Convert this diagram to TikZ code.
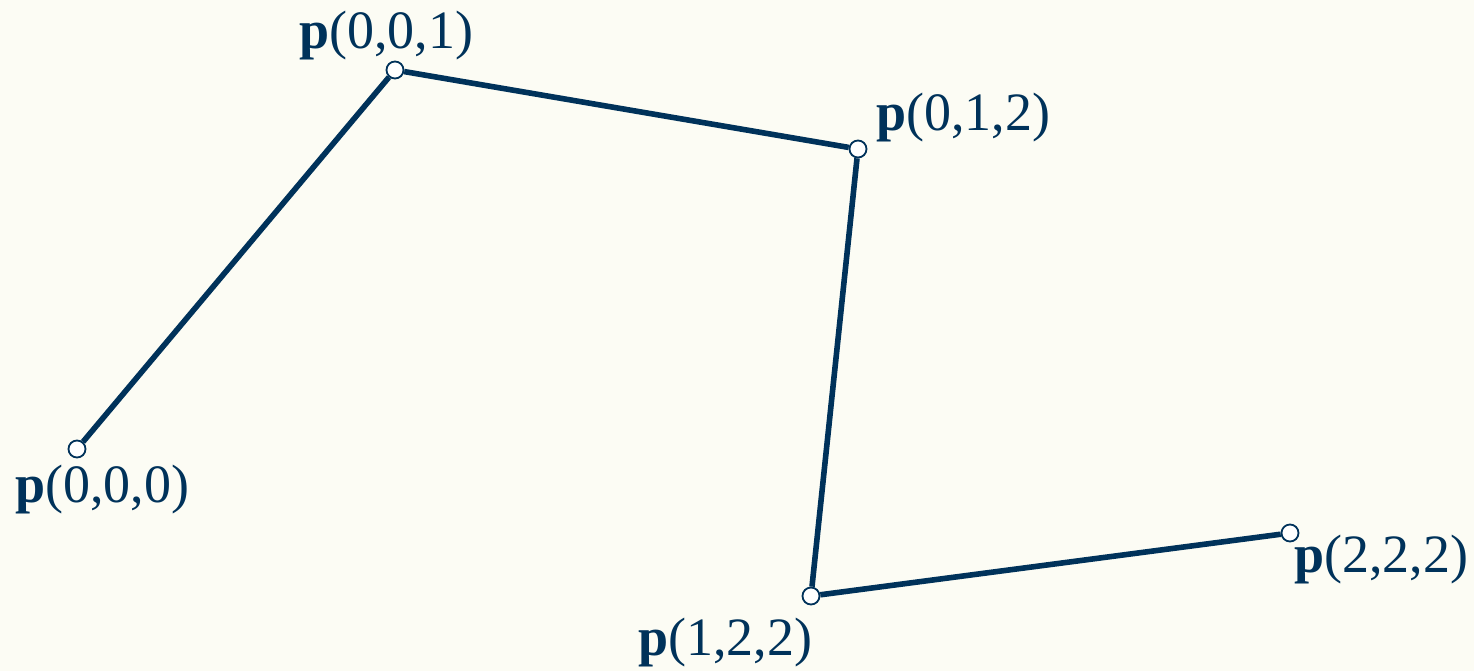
\documentclass[tikz,border=0pt]{standalone}
\usepackage{fontspec}
\setmainfont{Liberation Serif}
\usepackage{xcolor}
\usepackage{tikz}
\usetikzlibrary{positioning}
\definecolor{navy}{HTML}{00325A}
\definecolor{cream}{HTML}{FCFCF4}

\begin{document}
\begin{tikzpicture}[
x=0.5pt, y=-0.5pt,
pt/.style={draw=navy, circle, line width=0.9pt, fill=white, inner sep=0pt, minimum size=8.5pt},
lbl/.style={text=navy, inner sep=0pt, font=\fontsize{27}{30}\selectfont},
seg/.style={draw=navy, line width=2.8pt}
]
\fill[cream] (0,0) rectangle (1474,671);
\useasboundingbox (0,0) rectangle (1474,671);

\node[pt] (a) at (77,449) {};
\node[pt] (b) at (395,70) {};
\node[pt] (c) at (858,149) {};
\node[pt] (d) at (811,596) {};
\node[pt] (e) at (1290,533) {};

\node[lbl] (la) at (102,490) {\textbf{p}(0,0,0)};
\node[lbl] (lb) at (386,36) {\textbf{p}(0,0,1)};
\node[lbl, anchor=west] (lc) at (876,118) {\textbf{p}(0,1,2)};
\node[lbl] (ld) at (725,643) {\textbf{p}(1,2,2)};
\node[lbl] (le) at (1381,560) {\textbf{p}(2,2,2)};

\draw[seg] (a) -- (b);
\draw[seg] (b) -- (c);
\draw[seg] (c) -- (d);
\draw[seg] (d) -- (e);
\end{tikzpicture}
\end{document}
